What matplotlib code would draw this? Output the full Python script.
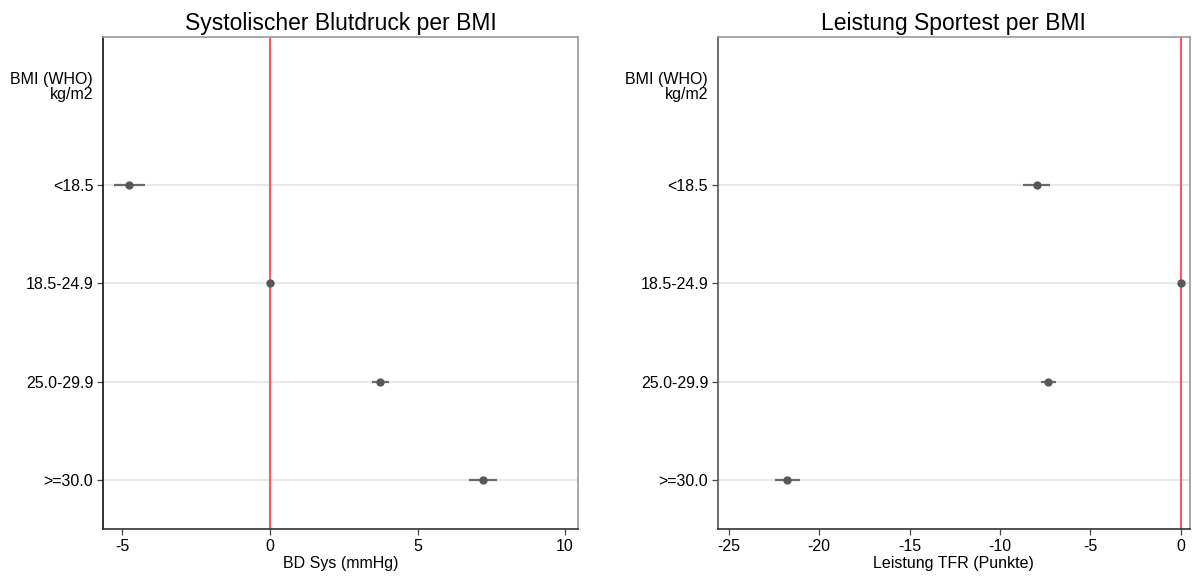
import matplotlib
matplotlib.use("Agg")
import matplotlib.pyplot as plt

plt.rcParams['font.family'] = ['Liberation Sans', 'DejaVu Sans']

# BMI categories (WHO), kg/m2
categories = ["<18.5", "18.5-24.9", "25.0-29.9", ">=30.0"]
header = "BMI (WHO)\nkg/m2"

# Systolic blood pressure difference vs. reference (18.5-24.9)
bp_est = [-4.77, 0.0, 3.74, 7.21]
bp_lo = [-5.30, 0.0, 3.47, 6.75]
bp_hi = [-4.24, 0.0, 4.03, 7.68]

# Sport test performance difference vs. reference (18.5-24.9)
sp_est = [-7.97, 0.0, -7.36, -21.80]
sp_lo = [-8.75, 0.0, -7.76, -22.47]
sp_hi = [-7.21, 0.0, -6.93, -21.09]

panels = [
    dict(title="Systolischer Blutdruck per BMI", xlabel="BD Sys (mmHg)",
         est=bp_est, lo=bp_lo, hi=bp_hi, xticks=[-5, 0, 5, 10],
         xlim=(-5.66, 10.44), rect=[0.0861, 0.0811, 0.3972, 0.854],
         left_spine="#111111"),
    dict(title="Leistung Sportest per BMI", xlabel="Leistung TFR (Punkte)",
         est=sp_est, lo=sp_lo, hi=sp_hi, xticks=[-25, -20, -15, -10, -5, 0],
         xlim=(-25.6, 0.5), rect=[0.6003, 0.0811, 0.3946, 0.854],
         left_spine="#555555"),
]

fig = plt.figure(figsize=(11.96, 5.76), dpi=100)
fig.patch.set_facecolor("white")

ypos = list(range(1, len(categories) + 1))

for p in panels:
    ax = fig.add_axes(p["rect"])
    ax.set_xlim(*p["xlim"])
    ax.set_ylim(4.5, -0.5)

    # horizontal gridlines at each category
    for y in ypos:
        ax.axhline(y, color="#e8e8e8", lw=1.4, zorder=1)

    # reference line at zero
    ax.axvline(0, color="#ff5a5a", lw=1.5, zorder=2)

    # confidence intervals and point estimates
    for y, e, l, h in zip(ypos, p["est"], p["lo"], p["hi"]):
        if h > l:
            ax.plot([l, h], [y, y], color="#6a6a6a", lw=1.6,
                    solid_capstyle="butt", zorder=3)
    ax.plot(p["est"], ypos, "o", color="#585858", ms=6, mew=0, zorder=4)

    ax.set_yticks(ypos)
    ax.set_yticklabels(categories, fontsize=11.5)
    ax.text(-0.021, 0, header, transform=ax.get_yaxis_transform(),
            ha="right", va="center", multialignment="right",
            fontsize=11.5, linespacing=1.0)

    ax.set_xticks(p["xticks"])
    ax.set_xticklabels([str(t) for t in p["xticks"]], fontsize=11.5)
    ax.tick_params(axis="both", direction="out", length=4.5, width=0.9,
                   color="#444444", pad=2.5)
    ax.set_xlabel(p["xlabel"], fontsize=11.5, labelpad=1.5)
    ax.set_title(p["title"], fontsize=16.5, pad=5)

    ax.spines["left"].set_color(p["left_spine"])
    ax.spines["left"].set_linewidth(1.2)
    ax.spines["bottom"].set_color("#333333")
    ax.spines["bottom"].set_linewidth(1.2)
    for s in ("top", "right"):
        ax.spines[s].set_color("#999999")
        ax.spines[s].set_linewidth(1.2)

fig.savefig("out.png", dpi=100, facecolor="white")
